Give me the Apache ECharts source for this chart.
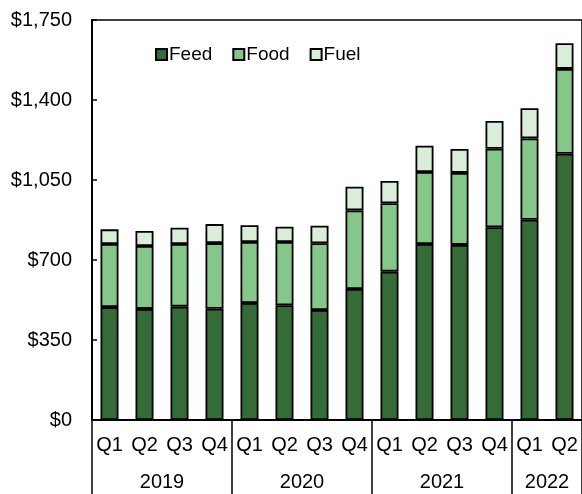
<!DOCTYPE html>
<html>
<head>
<meta charset="utf-8">
<script src="https://cdn.jsdelivr.net/npm/echarts@6/dist/echarts.min.js"></script>
<style>
  html, body { margin: 0; padding: 0; background: #fff; }
  #chart { width: 582px; height: 494px; }
</style>
</head>
<body>
<div id="chart"></div>
<script>
// 季度与年份
const quarters = ['Q1', 'Q2', 'Q3', 'Q4', 'Q1', 'Q2', 'Q3', 'Q4', 'Q1', 'Q2', 'Q3', 'Q4', 'Q1', 'Q2'];
const years = ['2019', '2020', '2021', '2022'];
const yearSpans = [4, 4, 4, 2];

// 各部分数值（美元）
const feed = [494, 486, 496, 487, 512, 502, 481, 573, 649, 770, 766, 843, 876, 1165];
const food = [276, 275, 274, 287, 267, 277, 292, 344, 299, 315, 315, 344, 356, 371];
const fuel = [64, 66, 71, 83, 73, 67, 77, 104, 98, 115, 105, 121, 132, 112];

const font = 'Liberation Sans, Arial, sans-serif';

// 年份分组的边界和中点
const yearBounds = [0];
const yearMids = [];
yearSpans.forEach(s => {
    const start = yearBounds[yearBounds.length - 1];
    yearMids.push(start + s / 2);
    yearBounds.push(start + s);
});

function money(v) {
    return '$' + String(v).replace(/\B(?=(\d{3})+(?!\d))/g, ',');
}

const chart = echarts.init(document.getElementById('chart'));

const barBorder = { borderColor: '#000', borderWidth: 1.8 };

chart.setOption({
    animation: false,
    grid: {
        left: 92, top: 20, width: 493, height: 400,
        show: true, borderColor: '#000', borderWidth: 1.5, backgroundColor: 'transparent'
    },
    legend: {
        top: 40,
        left: 150,
        itemWidth: 11,
        itemHeight: 11,
        itemGap: 20,
        icon: 'rect',
        textStyle: { fontFamily: font, fontSize: 19, color: '#000', padding: [0, 0, 0, -3] },
        data: ['Feed', 'Food', 'Fuel']
    },
    xAxis: [{
        type: 'category',
        data: quarters,
        axisLine: { lineStyle: { color: '#000', width: 2 } },
        axisTick: { interval: 0, length: 38, lineStyle: { color: '#000', width: 1.5 } },
        axisLabel: { interval: 0, margin: 15, fontFamily: font, fontSize: 20, color: '#000' }
    }, {
        type: 'value',
        min: 0,
        max: 14,
        position: 'bottom',
        splitLine: { show: false },
        axisLine: { show: false },
        axisTick: { show: true, customValues: yearBounds, length: 76, lineStyle: { color: '#000', width: 1.5 } },
        axisLabel: {
            customValues: yearMids,
            margin: 52,
            fontFamily: font, fontSize: 20, color: '#000',
            formatter: v => years[yearMids.indexOf(v)]
        }
    }],
    yAxis: {
        type: 'value',
        min: 0,
        max: 1750,
        interval: 350,
        splitLine: { show: false },
        axisLine: { show: true, lineStyle: { color: '#000', width: 2 } },
        axisTick: { show: true, inside: true, length: 5, lineStyle: { color: '#000', width: 1.5 } },
        axisLabel: { margin: 20, fontFamily: font, fontSize: 20, color: '#000', formatter: money }
    },
    series: [
        { name: 'Feed', type: 'bar', stack: 'total', barWidth: 18, data: feed,
          itemStyle: Object.assign({ color: '#346B37' }, barBorder) },
        { name: 'Food', type: 'bar', stack: 'total', barWidth: 18, data: food,
          itemStyle: Object.assign({ color: '#85C788' }, barBorder) },
        { name: 'Fuel', type: 'bar', stack: 'total', barWidth: 18, data: fuel,
          itemStyle: Object.assign({ color: '#D9EDD9' }, barBorder) }
    ]
});
</script>
</body>
</html>
